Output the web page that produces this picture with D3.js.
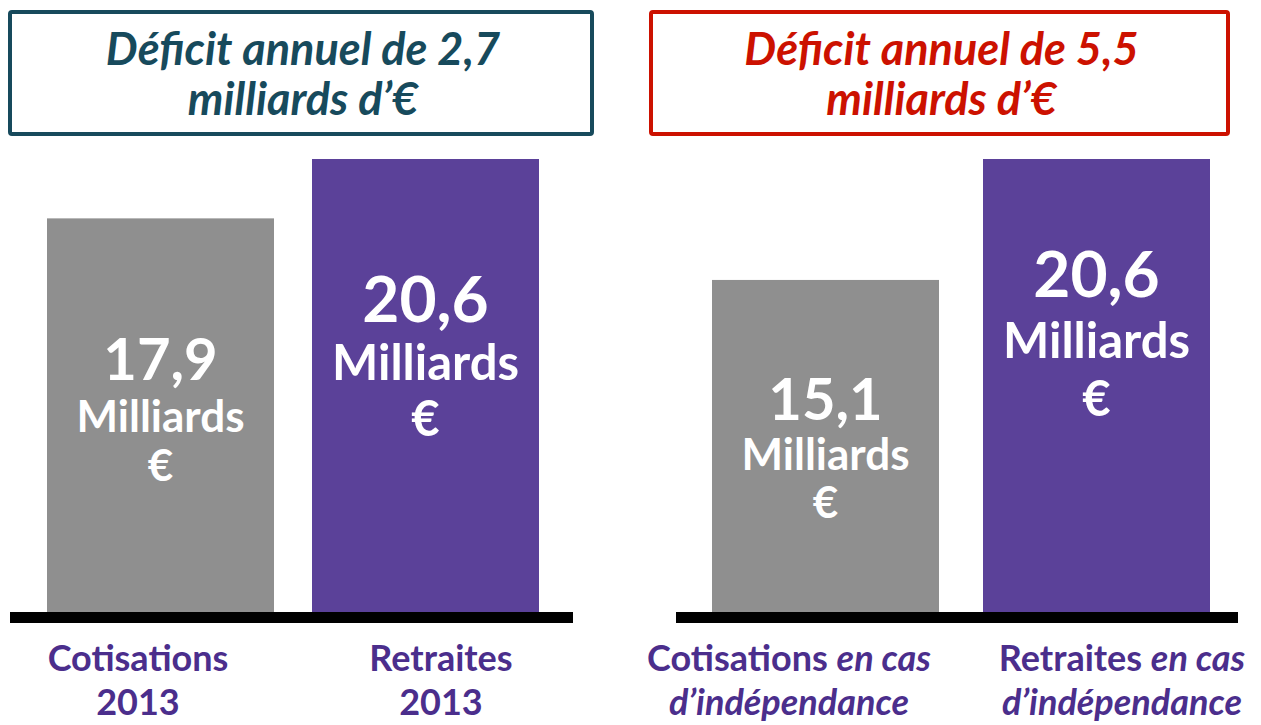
<!DOCTYPE html>
<html lang="fr">
<head>
  <meta charset="UTF-8">
  <title>Déficit annuel</title>
  <script src="https://d3js.org/d3.v7.min.js"></script>
  <style>
    body { margin: 0; background: #fff; }
    svg { display: block; font-family: Lato, "Open Sans", sans-serif; }
    .title { font-weight: 700; font-style: italic; font-size: 45px; text-anchor: middle; }
    .val { fill: #fff; font-weight: 700; text-anchor: middle; }
    .cat { fill: #4b2e8c; font-weight: 700; font-size: 36px; text-anchor: middle; }
  </style>
</head>
<body>
  <svg width="1261" height="725"></svg>

  <script>
    // données
    const panels = ["2013", "indépendance"];
    const titles = [["Déficit annuel de 2,7", "milliards d’€"], ["Déficit annuel de 5,5", "milliards d’€"]];
    const titleColors = ["#174a5c", "#cc1100"];
    const categories = [["Cotisations", "Retraites"], ["Cotisations", "Retraites"]];
    const values = [[17.9, 20.6], [15.1, 20.6]];
    const valueLabels = [["17,9", "20,6"], ["15,1", "20,6"]];
    const catLines = [
      [[["Cotisations"], ["2013"]], [["Retraites"], ["2013"]]],
      [[["Cotisations ", "en cas"], ["d’indépendance"]], [["Retraites ", "en cas"], ["d’indépendance"]]]
    ];
    const barColors = ["#8f8f8f", "#5b4199"];

    const svg = d3.select("svg");
    const baseY = 612;

    // mise en page de chaque panneau
    const layout = [
      { x0: 10, x1: 573, box: [10, 592], bars: [47, 312], catX: [138, 441] },
      { x0: 676, x1: 1238, box: [651, 1228], bars: [712, 983], catX: [789, 1122] }
    ];
    // baselines des trois lignes de texte dans chaque barre
    const valLineY = [[[380, 432, 481], [322, 380, 436]], [[420, 470, 518], [297, 358, 416]]];
    const valSizes = [[58, 44, 44], [64, 49, 49]];

    const y = d3.scaleLinear().domain([0, 20.6]).range([baseY, 159]);

    panels.forEach((p, i) => {
      const L = layout[i];
      const g = svg.append("g");

      // cadre du titre
      g.append("rect")
        .attr("x", L.box[0]).attr("y", 12)
        .attr("width", L.box[1] - L.box[0]).attr("height", 122)
        .attr("fill", "none").attr("stroke", titleColors[i]).attr("stroke-width", 4)
        .attr("rx", 2);

      const tt = g.append("text")
        .attr("class", "title")
        .attr("fill", titleColors[i]);
      tt.selectAll("tspan")
        .data(titles[i])
        .join("tspan")
        .attr("x", (L.box[0] + L.box[1]) / 2 + 2)
        .attr("y", (d, k) => 65 + k * 50)
        .text(d => d);

      const x = d3.scaleOrdinal().domain(categories[i]).range(L.bars);
      const bw = 227;

      g.selectAll("rect.bar")
        .data(values[i])
        .join("rect")
        .attr("class", "bar")
        .attr("x", (d, k) => x(categories[i][k]))
        .attr("y", d => y(d))
        .attr("width", bw)
        .attr("height", d => baseY - y(d))
        .attr("fill", (d, k) => barColors[k]);

      // étiquettes dans les barres
      values[i].forEach((v, k) => {
        const cx = x(categories[i][k]) + bw / 2;
        const lines = [valueLabels[i][k], "Milliards", "€"];
        const sz = valSizes[k];
        const t = g.append("text").attr("class", "val");
        lines.forEach((s, j) => {
          t.append("tspan")
            .attr("x", cx).attr("y", valLineY[i][k][j])
            .style("font-size", sz[j] + "px").text(s);
        });
      });

      // ligne de base
      g.append("rect")
        .attr("x", L.x0).attr("y", baseY)
        .attr("width", L.x1 - L.x0).attr("height", 11)
        .attr("fill", "#000");

      // catégories
      catLines[i].forEach((lines, k) => {
        const t = g.append("text").attr("class", "cat");
        lines.forEach((parts, j) => {
          parts.forEach((s, m) => {
            const it = s === "en cas" || s.startsWith("d’ind");
            const ts = t.append("tspan").style("font-style", it ? "italic" : "normal").text(s);
            if (m === 0) ts.attr("x", L.catX[k]).attr("y", 671 + j * 44);
          });
        });
      });
    });
  </script>
</body>
</html>
